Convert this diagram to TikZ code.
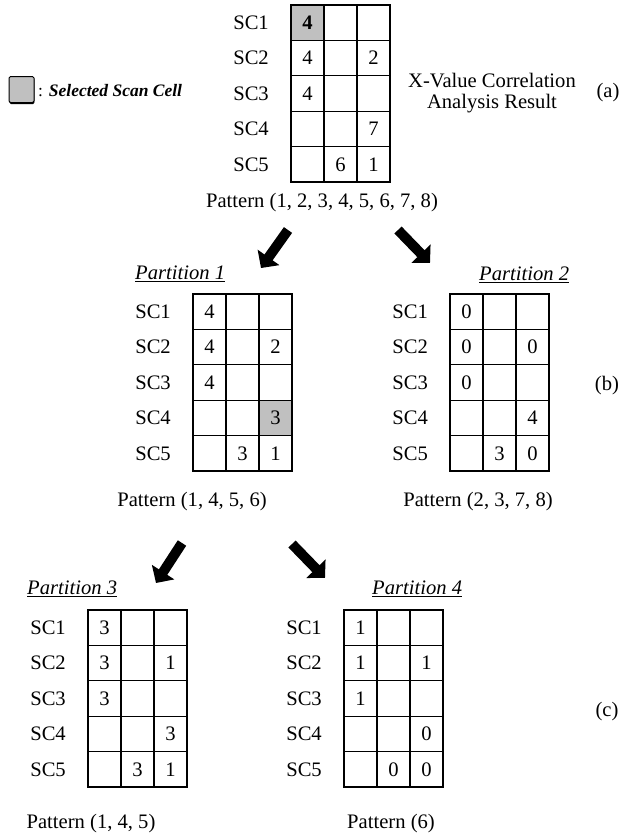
\documentclass[tikz,border=0pt]{standalone}
\usepackage{fontspec}
\setmainfont{Liberation Serif}
\usetikzlibrary{arrows.meta,shadows}

\definecolor{selgray}{RGB}{192,192,192}
\newcommand\cellw{33}
\newcommand\cellh{35.4}
\newcommand\mainsize{\fontsize{20.6}{22}\selectfont}
\newcommand\legsize{\fontsize{17.5}{19}\selectfont}

% One scan-cell table: #1 name, #2/#3 top-left corner, #4 the 15 cell values row by row
\newcommand\scangrid[4]{%
  \foreach \v [count=\i from 0] in {#4} {%
    \pgfmathtruncatemacro\rr{int(\i/3)+1}%
    \pgfmathtruncatemacro\cc{mod(\i,3)+1}%
    \node[cell] (#1-\rr-\cc) at ({#2+(\cc-0.5)*\cellw},{#3+(\rr-0.5)*\cellh}) {\v};%
  }%
  \foreach \r in {1,...,5} {%
    \node[sclabel] (#1-sc\r) at ({#2-22},{#3+(\r-0.5)*\cellh}) {SC\r};%
  }%
}

\tikzset{
  cell/.style={draw, line width=1.3pt, minimum width=\cellw pt, minimum height=\cellh pt,
    inner sep=0pt, font=\mainsize},
  selcell/.style={cell, fill=selgray},
  sclabel/.style={anchor=east, inner sep=0pt, font=\mainsize},
  plain/.style={inner sep=0pt, font=\mainsize},
  parttitle/.style={anchor=base west, inner sep=0pt, font=\mainsize\itshape},
  uline/.style={line width=1.1pt},
  bigarrow/.style={line width=10pt, -{Triangle[length=13pt,width=26pt]}},
}

\begin{document}
\begin{tikzpicture}[x=1pt, y=-1pt]
\useasboundingbox (0,0) rectangle (621,836);

% legend
\node[draw, line width=1pt, fill=selgray, minimum width=25pt, minimum height=26pt,
  rounded corners=1.5pt, inner sep=0pt,
  drop shadow={opacity=1, fill=black, shadow xshift=0.4pt, shadow yshift=-1.6pt}]
  (legbox) at (21.5,89.5) {};
\node[anchor=west, inner sep=0pt, font=\legsize] (legtext) at (38,91)
  {: \textbf{\textit{Selected Scan Cell}}};

% (a) correlation analysis result
\scangrid{a}{291}{5}{4,{},{},4,{},2,4,{},{},{},{},7,{},6,1}
\node[selcell, font=\mainsize\bfseries] (a-sel) at (a-1-1) {4};
\node[plain, align=center, font=\fontsize{20.6}{21}\selectfont] (atitle) at (492,93.5)
  {X-Value Correlation\\Analysis Result};
\node[plain] (lbla) at (608,93) {(a)};
\node[plain, anchor=base] (pata) at (322,207) {Pattern (1, 2, 3, 4, 5, 6, 7, 8)};

% first split
\coordinate (t1) at (288,230);
\coordinate (h1) at (261,268);
\coordinate (t2) at (398,230);
\coordinate (h2) at (430,263);
\draw[bigarrow] (t1) -- (h1);
\draw[bigarrow] (t2) -- (h2);

% (b) partitions 1 and 2
\node[parttitle] (p1title) at (135,279) {Partition 1};
\draw[uline] ([yshift=-2.2pt]p1title.base west) -- ([yshift=-2.2pt]p1title.base east);
\scangrid{p1}{193}{294}{4,{},{},4,{},2,4,{},{},{},{},3,{},3,1}
\node[selcell] (p1-sel) at (p1-4-3) {3};
\node[plain, anchor=base] (pat1) at (192,506) {Pattern (1, 4, 5, 6)};

\node[parttitle] (p2title) at (479,280) {Partition 2};
\draw[uline] ([yshift=-2.2pt]p2title.base west) -- ([yshift=-2.2pt]p2title.base east);
\scangrid{p2}{450}{294}{0,{},{},0,{},0,0,{},{},{},{},4,{},3,0}
\node[plain, anchor=base] (pat2) at (478,506) {Pattern (2, 3, 7, 8)};
\node[plain] (lblb) at (607,386) {(b)};

% second split
\coordinate (t3) at (182,543);
\coordinate (h3) at (156,583);
\coordinate (t4) at (292,544);
\coordinate (h4) at (325,578);
\draw[bigarrow] (t3) -- (h3);
\draw[bigarrow] (t4) -- (h4);

% (c) partitions 3 and 4
\node[parttitle] (p3title) at (27,594) {Partition 3};
\draw[uline] ([yshift=-2.2pt]p3title.base west) -- ([yshift=-2.2pt]p3title.base east);
\scangrid{p3}{88}{610}{3,{},{},3,{},1,3,{},{},{},{},3,{},3,1}
\node[plain, anchor=base] (pat3) at (91,828) {Pattern (1, 4, 5)};

\node[parttitle] (p4title) at (372,594) {Partition 4};
\draw[uline] ([yshift=-2.2pt]p4title.base west) -- ([yshift=-2.2pt]p4title.base east);
\scangrid{p4}{344}{610}{1,{},{},1,{},1,1,{},{},{},{},0,{},0,0}
\node[plain, anchor=base] (pat4) at (391,828) {Pattern (6)};
\node[plain] (lblc) at (607,712) {(c)};
\end{tikzpicture}
\end{document}
